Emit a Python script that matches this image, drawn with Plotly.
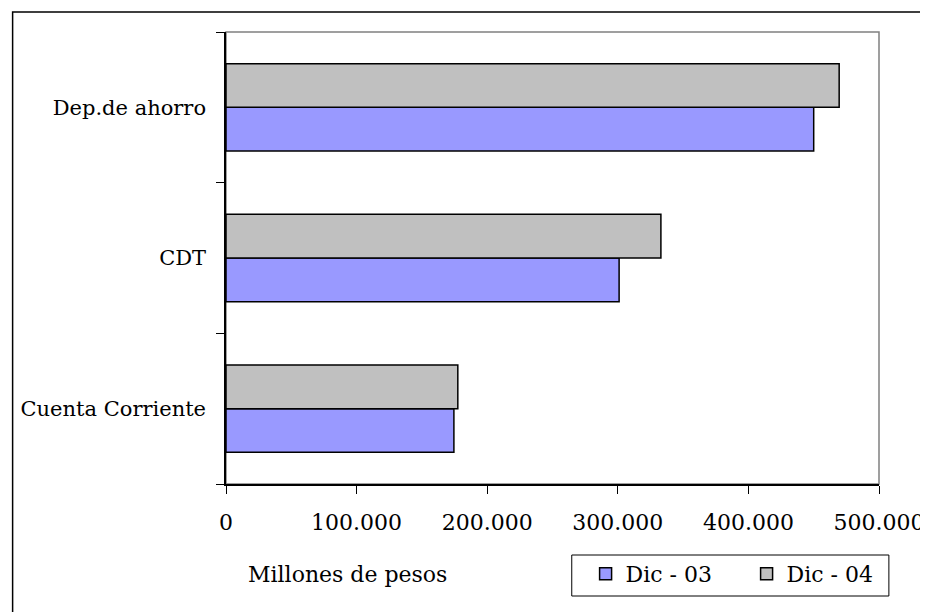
import plotly.graph_objects as go

categories = ["Cuenta Corriente", "CDT", "Dep.de ahorro"]
dic03 = [174500, 301000, 450000]
dic04 = [177500, 333000, 469500]
x_tickvals = [0, 100000, 200000, 300000, 400000, 500000]
x_ticktext = ["0", "100.000", "200.000", "300.000", "400.000", "500.000"]

OFF = 8  # default page margin around the figure in the browser
W, H = 928, 612
L, T = 226 - OFF, 32 - OFF
RIGHT, BOTTOM = 887 - OFF, 484 - OFF
R, B = W - RIGHT, H - BOTTOM
pw, ph = RIGHT - L, BOTTOM - T

def px(x):
    return (x - OFF - L) / pw

def py(y):
    return (BOTTOM - (y - OFF)) / ph

font = dict(family="DejaVu Serif", size=22, color="black")
cat_font = dict(family="DejaVu Serif", size=21, color="black")

fig = go.Figure()
fig.add_trace(go.Bar(y=categories, x=dic03, orientation="h", name="Dic - 03",
                     marker=dict(color="#9999FF", line=dict(color="black", width=1.5))))
fig.add_trace(go.Bar(y=categories, x=dic04, orientation="h", name="Dic - 04",
                     marker=dict(color="#C0C0C0", line=dict(color="black", width=1.5))))

fig.update_layout(
    width=W, height=H,
    margin=dict(l=L, r=R, t=T, b=B, pad=0),
    paper_bgcolor="white", plot_bgcolor="white",
    barmode="group", bargap=0.42, bargroupgap=0,
    font=font,
    showlegend=True,
    legend=dict(orientation="h", x=px(590), xanchor="left", y=py(574), yanchor="middle",
                borderwidth=0, font=font,
                entrywidth=116, entrywidthmode="pixels", traceorder="normal",
                bgcolor="rgba(0,0,0,0)"),
    xaxis=dict(range=[0, 500000], tickvals=x_tickvals, ticktext=x_ticktext,
               showgrid=False, zeroline=False, showline=True, linecolor="black", linewidth=1.5,
               ticks="outside", ticklen=8, tickcolor="black", tickwidth=1,
               ticklabelstandoff=10, tickfont=font),
    yaxis=dict(showgrid=False, zeroline=False, showline=True, linecolor="black", linewidth=1.5,
               ticks="outside", ticklen=8, tickcolor="black", tickwidth=1,
               tickson="boundaries", ticklabelstandoff=14, tickfont=cat_font),
    shapes=[
        dict(type="rect", xref="paper", yref="paper", x0=0, x1=1, y0=0, y1=1,
             line=dict(color="#808080", width=1.5), layer="below"),
        dict(type="rect", xref="paper", yref="paper", x0=px(10), x1=px(960), y0=py(640), y1=py(12),
             line=dict(color="black", width=1.5), layer="below"),
        dict(type="rect", xref="paper", yref="paper", x0=px(576), x1=px(897), y0=py(596), y1=py(555),
             line=dict(color="black", width=1), layer="below"),
    ],
    annotations=[
        dict(text="Millones de pesos", xref="paper", yref="paper", x=px(246), y=py(574),
             xanchor="left", yanchor="middle", showarrow=False, font=font),
    ],
)

fig.write_html("out.html")
